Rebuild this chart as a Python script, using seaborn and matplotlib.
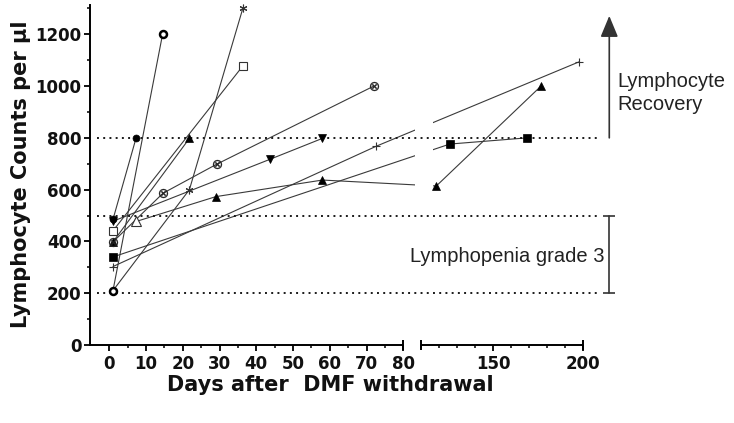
import numpy as np
import pandas as pd
import seaborn as sns
import matplotlib.pyplot as plt

# days after DMF withdrawal and lymphocyte counts per µl, one pair per patient
open_circle_days = [1, 14.5]
open_circle_counts = [210, 1200]
filled_circle_days = [1, 7.3]
filled_circle_counts = [485, 800]
down_tri_days = [1, 43.7, 58]
down_tri_counts = [478, 717, 798]
open_square_days = [1, 36.3]
open_square_counts = [441, 1077]
cross_circle_days = [1, 14.6, 29.2, 72]
cross_circle_counts = [398, 586, 698, 1000]
filled_square_days = [1, 126, 169]
filled_square_counts = [340, 776, 800]
plus_days = [1, 72.7, 198]
plus_counts = [303, 768, 1094]
star_days = [1, 21.8, 36.4]
star_counts = [210, 600, 1303]
up_tri_a_days = [1, 21.8]
up_tri_a_counts = [398, 798]
up_tri_b_days = [7.3, 29, 58, 118.5, 176.7]
up_tri_b_counts = [477, 573, 637, 614, 1000]

thresholds = [200, 500, 800]
x_major = [0, 10, 20, 30, 40, 50, 60, 70, 80, 150, 200]
x_minor = [5, 15, 25, 35, 45, 55, 65, 75, 110, 120, 130, 140, 160, 170, 180, 190]
y_major = [0, 200, 400, 600, 800, 1000, 1200]
y_minor = [100, 300, 500, 700, 900, 1100, 1300]

patients = [
    ('up_tri_a', up_tri_a_days, up_tri_a_counts, ['up_tri'] * 2),
    ('cross', cross_circle_days, cross_circle_counts, ['cross_circle'] * 4),
    ('star', star_days, star_counts, ['star'] * 3),
    ('open_circle', open_circle_days, open_circle_counts, ['open_circle'] * 2),
    ('down_tri', down_tri_days, down_tri_counts, ['down_tri'] * 3),
    ('filled_circle', filled_circle_days, filled_circle_counts, ['filled_circle'] * 2),
    ('open_square', open_square_days, open_square_counts, ['open_square'] * 2),
    ('filled_square', filled_square_days, filled_square_counts, ['filled_square'] * 3),
    ('plus', plus_days, plus_counts, ['plus'] * 3),
    ('up_tri_b', up_tri_b_days, up_tri_b_counts, ['open_tri'] + ['up_tri'] * 4),
]

rows = []
for name, days, counts, syms in patients:
    for d, c, s in zip(days, counts, syms):
        rows.append({'patient': name, 'day': d, 'count': c, 'sym': s})
df = pd.DataFrame(rows)

# drawing order matters where symbols sit on top of each other at day 1
styles = {
    'star': dict(marker=(6, 2, 0), ms=5.5, mec='#333333', mew=0.8),
    'plus': dict(marker='+', ms=5.5, mec='#333333', mew=0.8),
    'up_tri': dict(marker='^', ms=5.5, mfc='k', mec='k', mew=0.5),
    'cross_circle': dict(marker='$\\otimes$', ms=6.5, mfc='#222222', mec='#222222', mew=0.2),
    'down_tri': dict(marker='v', ms=5.5, mfc='k', mec='k', mew=0.5),
    'filled_square': dict(marker='s', ms=5.5, mfc='k', mec='k', mew=0.5),
    'open_square': dict(marker='s', ms=5.2, mfc='white', mec='#333333', mew=0.8),
    'open_tri': dict(marker='^', ms=6.5, mfc='white', mec='#333333', mew=0.8),
    'filled_circle': dict(marker='o', ms=5, mfc='k', mec='k', mew=0.5),
    'open_circle': dict(marker='o', ms=5, mfc='white', mec='k', mew=1.8),
}


# broken x axis as in the original (0-80 | 110-200), lines stay straight across the gap
def fwd(d):
    d = np.asarray(d, dtype=float)
    return np.where(d <= 80, d,
                    np.where(d < 110, 80 + (d - 80) * 0.1607, 84.82 + (d - 110) * 0.4898))


def inv(t):
    t = np.asarray(t, dtype=float)
    return np.where(t <= 80, t,
                    np.where(t < 84.82, 80 + (t - 80) / 0.1607, 110 + (t - 84.82) / 0.4898))


sns.set_style('ticks')
fig = plt.figure(figsize=(7.34, 4.23), dpi=100)
ax = fig.add_axes([90 / 734, 78 / 423, 529 / 734, 340 / 423])
ax.set_xscale('function', functions=(fwd, inv))

sns.lineplot(data=df, x='day', y='count', units='patient', estimator=None, sort=False,
             color='#3a3a3a', lw=0.8, ax=ax, legend=False, zorder=2)

for s, st in styles.items():
    sub = df[df.sym == s]
    ax.plot(sub['day'], sub['count'], ls='none', zorder=3, clip_on=False, **st)

# blank the gap of the broken axis
ax.axvspan(100, 116.5, ymin=0.02, ymax=1, color='white', lw=0, zorder=2.2)

ax.hlines(thresholds, -3.4, 207.8, colors='#1a1a1a', lw=1.4, linestyles=[(0, (1.0, 2.2))],
          zorder=2.5, clip_on=False)

ax.set_xlim(-5.25, 220)
ax.set_ylim(0, 1313)
ax.set_xticks(x_major)
ax.set_xticks(x_minor, minor=True)
ax.set_xticklabels([str(v) for v in x_major])
ax.set_yticks(y_major)
ax.set_yticks(y_minor, minor=True)
ax.set_yticklabels([str(v) for v in y_major])

sns.despine(ax=ax)
ax.spines['bottom'].set_visible(False)
ax.spines['left'].set_linewidth(1.4)
ax.spines['left'].set_color('k')
ax.plot([-5.25, 80], [0, 0], color='k', lw=1.4, clip_on=False, solid_capstyle='butt', zorder=4)
ax.plot([110, 200], [0, 0], color='k', lw=1.4, clip_on=False, solid_capstyle='butt', zorder=4)
ax.plot([80, 110, 200], [0, 0, 0], ls='none', marker='|', ms=7.5, mew=1.4, color='k',
        clip_on=False, zorder=4)

ax.tick_params(which='major', length=4.5, width=1.3, color='k', pad=1.5)
ax.tick_params(which='minor', length=2.5, width=1.1, color='k')
ax.tick_params(axis='x', which='major', pad=3)
for lab in ax.get_xticklabels() + ax.get_yticklabels():
    lab.set_fontfamily('DejaVu Sans')
    lab.set_fontweight('bold')
    lab.set_fontsize(12)
    lab.set_color('#111111')

ax.set_xlabel('Days after  DMF withdrawal', fontsize=15, fontweight='bold',
              family='DejaVu Sans', color='#111111')
ax.xaxis.set_label_coords(0.4537, -0.088)
ax.set_ylabel('Lymphocyte Counts per µl', fontsize=15, fontweight='bold',
              family='DejaVu Sans', color='#111111')
ax.yaxis.set_label_coords(-0.1115, 0.503)

# recovery arrow and lymphopenia bracket
ax.annotate('', xy=(214.6, 1271), xytext=(214.6, 800), annotation_clip=False,
            arrowprops=dict(arrowstyle='-|>,head_length=0.65,head_width=0.27',
                            mutation_scale=20, lw=1.2, color='#333333',
                            shrinkA=0, shrinkB=0))
ax.plot([214.6, 214.6], [200, 500], color='#333333', lw=1.2, marker='_', ms=9, mew=1.2,
        clip_on=False)

txt = dict(family=['Liberation Sans', 'DejaVu Sans'], fontsize=14.5, color='#222222')
fig.text(617 / 734, 1 - 87.3 / 423, 'Lymphocyte', ha='left', va='baseline', **txt)
fig.text(617 / 734, 1 - 110 / 423, 'Recovery', ha='left', va='baseline', **txt)
fig.text(605 / 734, 1 - 262 / 423, 'Lymphopenia grade 3', ha='right', va='baseline', **txt)

plt.savefig('out.png', dpi=100)
